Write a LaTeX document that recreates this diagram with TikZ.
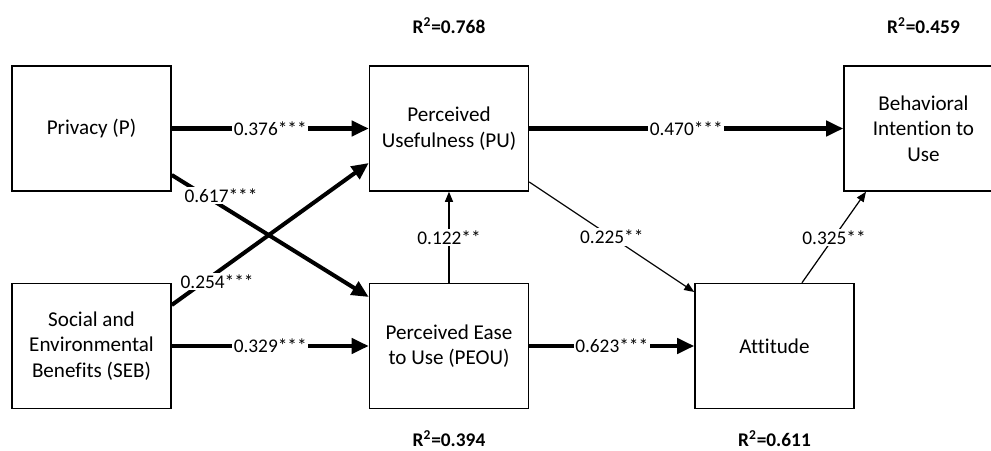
\documentclass[tikz,border=0pt]{standalone}
\usepackage{fontspec}
\setmainfont[Ligatures=NoCommon]{Carlito}
\usetikzlibrary{arrows.meta,positioning}

\begin{document}
\begin{tikzpicture}[
    box/.style={draw,line width=.85pt,minimum width=3.18cm,minimum height=2.5cm,align=center,
                font=\fontsize{12}{14.5}\selectfont},
    coef/.style={fill=white,inner sep=1pt,font=\fontsize{11}{13}\selectfont},
    rsq/.style={font=\fontsize{11}{13}\selectfont\bfseries},
    strong/.style={-{Triangle[length=.34cm,width=.3cm]},line width=2.3pt},
    weak/.style={-{Triangle[length=.2cm,width=.16cm]},line width=.7pt}
  ]
  \useasboundingbox (-1.83,2.57) rectangle (17.99,-6.43);
  \node[box] (p) at (0,0) {Privacy (P)};
  \node[box,right=3.94cm of p] (pu) {Perceived\\Usefulness (PU)};
  \node[box,right=6.28cm of pu] (bi) {Behavioral\\Intention to\\Use};
  \node[box,below=1.82cm of p] (seb) {Social and\\Environmental\\Benefits (SEB)};
  \node[box,below=1.82cm of pu] (peou) {Perceived Ease\\to Use (PEOU)};
  \node[box,right=3.3cm of peou] (att) {Attitude};

  \node[rsq,above=.5cm of pu] (rpu) {R\textsuperscript{2}=0.768};
  \node[rsq,above=.5cm of bi] (rbi) {R\textsuperscript{2}=0.459};
  \node[rsq,below=.3cm of peou] (rpeou) {R\textsuperscript{2}=0.394};
  \node[rsq,below=.3cm of att] (ratt) {R\textsuperscript{2}=0.611};

  % path coefficients
  \draw[strong] (p) -- node[coef]{0.376***} (pu);
  \draw[strong] (pu) -- node[coef]{0.470***} (bi);
  \draw[strong] (seb) -- node[coef]{0.329***} (peou);
  \draw[strong] (peou) -- node[coef]{0.623***} (att);
  \draw[strong] ([yshift=-.93cm]p.east) -- node[coef,pos=.25,yshift=.2cm]{0.617***} ([yshift=.98cm]peou.west);
  \draw[strong] ([yshift=.82cm]seb.east) -- node[coef,pos=.23,yshift=-.18cm]{0.254***} ([yshift=-.69cm]pu.west);
  \draw[weak] (peou) -- node[coef]{0.122**} (pu);
  \draw[weak] ([yshift=-1.07cm]pu.east) -- node[coef]{0.225**} ([yshift=1.08cm]att.west);
  \draw[weak] ([xshift=.55cm]att.north) -- node[coef]{0.325**} ([xshift=-1.15cm]bi.south);
\end{tikzpicture}
\end{document}
